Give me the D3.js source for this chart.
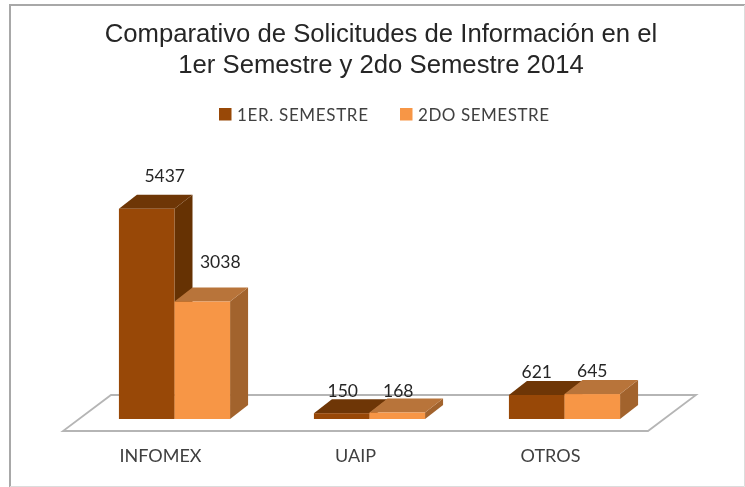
<!DOCTYPE html>
<html>
<head>
<meta charset="utf-8">
<script src="https://cdn.jsdelivr.net/npm/d3@7"></script>
<style>
html, body { margin: 0; padding: 0; background: #fff; }
svg { display: block; }
</style>
</head>
<body>
<div id="chart_div"></div>
<script>
var categories = ["INFOMEX", "UAIP", "OTROS"];
var series_names = ["1ER. SEMESTRE", "2DO SEMESTRE"];
var semestre_1 = [5437, 150, 621];
var semestre_2 = [3038, 168, 645];
var title_lines = ["Comparativo de Solicitudes de Información en el", "1er Semestre y 2do Semestre 2014"];

var chart_width = 745;
var chart_height = 487;
var bar_dx = 18, bar_dy = 14;        // depth of the 3d bars
var floor_dx = 48, floor_dy = 36;    // depth of the floor
var floor_y = 431;
var shift_x = 14;                    // bars stand inside the floor

//                   face   side     top
var colors = [["#984807", "#663203", "#6e3606"],
              ["#f79646", "#a2632d", "#b8743a"]];
// labels were moved by hand in the original, offsets from the bar's front top centre
var label_dx = [[18, 18], [1, 1], [0, 0]];
var label_lift = [[27, 34], [16, 16], [17, 17]];

var chart = d3.select("#chart_div").append("svg")
    .attr("width", chart_width)
    .attr("height", chart_height)
    .style("font-family", "Lato, sans-serif")
    .style("filter", "blur(0.4px)");

var x = d3.scaleBand().domain(categories).range([63, 648]).paddingInner(0.43).paddingOuter(0.215);
var x_inner = d3.scaleBand().domain([0, 1]).range([0, x.bandwidth()]);
var y = d3.scaleLinear().domain([0, 6000]).range([419, 187]);

// frame
chart.append("path")
    .attr("d", "M10,487V5H745")
    .attr("fill", "none")
    .attr("stroke", "#a8a8a8")
    .attr("stroke-width", 2);
chart.append("path")
    .attr("d", "M10,486.5H744.5V5")
    .attr("fill", "none")
    .attr("stroke", "#dcdcdc");

// title
chart.selectAll(".title")
    .data(title_lines)
    .enter().append("text")
    .attr("class", "title")
    .attr("x", 381)
    .attr("y", function(d, i) { return 42 + i * 31; })
    .attr("text-anchor", "middle")
    .attr("fill", "#262626")
    .style("font-family", "'Liberation Sans', Arial, sans-serif")
    .style("font-size", "25.7px")
    .text(function(d) { return d; });

// legend
var legend = chart.selectAll(".legend")
    .data(series_names)
    .enter().append("g")
    .attr("class", "legend")
    .attr("transform", function(d, i) { return "translate(" + [219, 400][i] + ",108)"; });
legend.append("rect")
    .attr("width", 12.5)
    .attr("height", 12.5)
    .attr("fill", function(d, i) { return colors[i][0]; });
legend.append("text")
    .attr("x", 18)
    .attr("y", 12.5)
    .attr("fill", "#404040")
    .style("font-size", "17px")
    .attr("textLength", 131)
    .attr("lengthAdjust", "spacing")
    .text(function(d) { return d; });

// floor
var x0 = x.range()[0], x1 = x.range()[1];
chart.append("polygon")
    .attr("points", [[x0, floor_y], [x1, floor_y], [x1 + floor_dx, floor_y - floor_dy], [x0 + floor_dx, floor_y - floor_dy]].join(" "))
    .attr("fill", "#fff")
    .attr("stroke", "#b5b5b5")
    .attr("stroke-width", 1.8);

// bars, first series is behind the second one
var rows = [];
[semestre_1, semestre_2].forEach(function(values, s) {
    values.forEach(function(v, c) {
        rows.push({ s: s, c: c, v: v, left: x(categories[c]) + shift_x + x_inner(s), right: x(categories[c]) + shift_x + x_inner(s) + x_inner.bandwidth() });
    });
});

var bars = chart.selectAll(".bar")
    .data(rows)
    .enter().append("g")
    .attr("class", "bar");

// right side
bars.append("polygon")
    .attr("fill", function(d) { return colors[d.s][1]; })
    .attr("points", function(d) {
        return [[d.right, y(0)], [d.right + bar_dx, y(0) - bar_dy], [d.right + bar_dx, y(d.v) - bar_dy], [d.right, y(d.v)]].join(" ");
    });
// top
bars.append("polygon")
    .attr("fill", function(d) { return colors[d.s][2]; })
    .attr("points", function(d) {
        return [[d.left, y(d.v)], [d.right, y(d.v)], [d.right + bar_dx, y(d.v) - bar_dy], [d.left + bar_dx, y(d.v) - bar_dy]].join(" ");
    });
// face
bars.append("rect")
    .attr("x", function(d) { return d.left; })
    .attr("y", function(d) { return y(d.v); })
    .attr("width", x_inner.bandwidth())
    .attr("height", function(d) { return y(0) - y(d.v); })
    .attr("fill", function(d) { return colors[d.s][0]; });

// value labels
chart.selectAll(".value")
    .data(rows)
    .enter().append("text")
    .attr("class", "value")
    .attr("x", function(d) { return (d.left + d.right) / 2 + label_dx[d.c][d.s]; })
    .attr("y", function(d) { return y(d.v) - label_lift[d.c][d.s]; })
    .attr("text-anchor", "middle")
    .attr("fill", "#262626")
    .style("font-size", "17.5px")
    .text(function(d) { return d.v; });

// category axis
var axis = chart.append("g")
    .attr("transform", "translate(0,446)")
    .call(d3.axisBottom(x).tickSize(0).tickPadding(3));
axis.select(".domain").remove();
axis.selectAll("text")
    .attr("fill", "#404040")
    .style("font-family", "Lato, sans-serif")
    .style("font-size", "18px");
</script>
</body>
</html>
